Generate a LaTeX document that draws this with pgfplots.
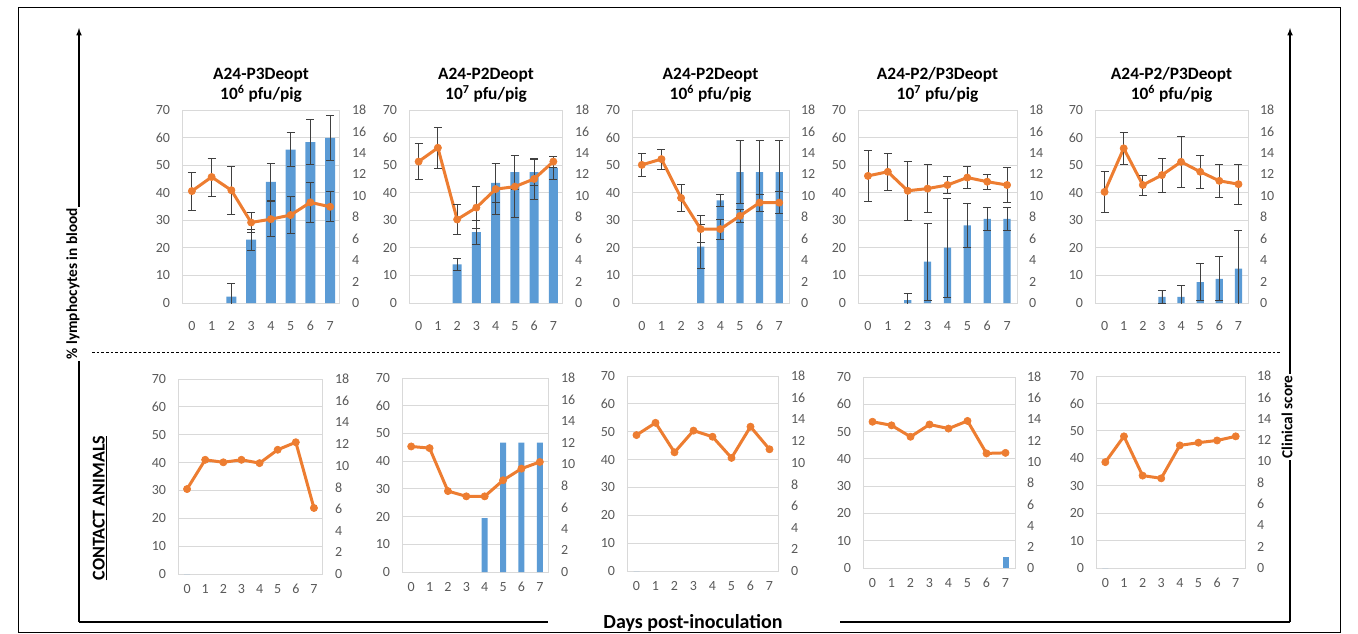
\documentclass[border=0pt]{standalone}
\usepackage{fontspec}
\setmainfont{Carlito}
\usepackage{pgfplots}
\pgfplotsset{compat=1.18}
\usepackage{pgfplotstable}
\definecolor{barblue}{HTML}{5B9BD5}
\definecolor{lineorange}{HTML}{ED7D31}
\definecolor{gridgrey}{HTML}{D9D9D9}
\definecolor{ticktext}{HTML}{595959}
\definecolor{errgrey}{HTML}{404040}

% ---------- data: line = % lymphocytes (left axis), bars = clinical score (right axis)
\pgfplotstableread{
x y e
0 40.6 6.9
1 45.7 6.9
2 40.9 8.8
3 29.2 3.6
4 30.4 6.3
5 31.9 6.8
6 36.5 7.3
7 34.9 5.4
}\lA
\pgfplotstableread{
x y e
2 0.6 1.2
3 5.9 1.0
4 11.3 1.7
5 14.3 1.6
6 15.0 2.1
7 15.4 2.1
}\bA
\pgfplotstableread{
x y e
0 51.3 6.6
1 56.3 7.4
2 30.3 5.5
3 34.6 7.7
4 41.3 9.2
5 42.2 11.2
6 45.0 7.5
7 51.3 2.0
}\lB
\pgfplotstableread{
x y e
2 3.6 0.6
3 6.6 1.1
4 11.2 1.8
5 12.2 1.6
6 12.2 1.2
7 12.6 1.1
}\bB
\pgfplotstableread{
x y e
0 50.1 4.1
1 52.2 3.6
2 38.1 4.8
3 26.8 5.0
4 26.8 3.7
5 31.6 2.4
6 36.4 3.1
7 36.4 3.9
}\lC
\pgfplotstableread{
x y e
3 5.25 2.06
4 9.57 0.57
5 12.2 2.93
6 12.2 2.93
7 12.2 2.93
}\bC
\pgfplotstableread{
x y e
0 46.1 9.2
1 47.6 6.8
2 40.7 10.8
3 41.5 8.8
4 42.8 3.0
5 45.5 4.0
6 44.0 2.7
7 42.8 6.3
}\lD
\pgfplotstableread{
x y e
2 0.26 0.62
3 3.86 3.6
4 5.17 4.63
5 7.25 2.08
6 7.84 1.08
7 7.84 1.08
}\bD
\pgfplotstableread{
x y e
0 40.3 7.4
1 56.1 5.7
2 42.8 3.6
3 46.4 6.2
4 51.2 9.4
5 47.6 5.9
6 44.3 5.9
7 43.1 7.3
}\lE
\pgfplotstableread{
x y e
3 0.57 0.62
4 0.57 1.08
5 1.95 1.70
6 2.26 2.06
7 3.21 3.60
}\bE
% contact animals
\pgfplotstableread{
x y e
0 30.5 0
1 41.0 0
2 40.1 0
3 41.0 0
4 39.8 0
5 44.6 0
6 47.3 0
7 23.7 0
}\lF
\pgfplotstableread{
x y e
0 45.3 0
1 44.7 0
2 29.2 0
3 27.3 0
4 27.3 0
5 33.1 0
6 37.3 0
7 39.7 0
}\lG
\pgfplotstableread{
x y e
4 5 0
5 12 0
6 12 0
7 12 0
}\bG
\pgfplotstableread{
x y e
0 48.8 0
1 53.2 0
2 42.6 0
3 50.4 0
4 48.2 0
5 40.6 0
6 51.8 0
7 43.7 0
}\lH
\pgfplotstableread{
x y e
0 53.6 0
1 52.3 0
2 48.1 0
3 52.6 0
4 51.1 0
5 53.9 0
6 42.0 0
7 42.2 0
}\lI
\pgfplotstableread{
x y e
7 1.0 0
}\bI
\pgfplotstableread{
x y e
0 38.6 0
1 48.0 0
2 33.7 0
3 32.7 0
4 44.7 0
5 45.7 0
6 46.5 0
7 48.0 0
}\lJ
\pgfplotstableread{
x y e
0 0 0
}\bZ

\def\xlabshift{-4pt}
\pgfplotsset{
  panelbase/.style={scale only axis, anchor=south west,
    xmin=-0.5, xmax=7.5, xtick={0,...,7},
    major tick length=0pt,
    tick label style={font=\fontsize{10.5}{12}\selectfont, text=ticktext},
    /pgf/number format/assume math mode=true},
  gridaxis/.style={panelbase, ymin=0, ymax=70, ytick={0,10,...,70},
    ymajorgrids, grid style={gridgrey, line width=0.75pt},
    axis line style={gridgrey, line width=0.75pt},
    ytick pos=left, xtick pos=bottom,
    yticklabel style={xshift=-5.5pt}, xticklabel style={yshift=\xlabshift},
    title style={font=\fontsize{13}{15}\selectfont\bfseries, align=center, yshift=-3.5pt}},
  rightaxis/.style={panelbase, ymin=0, ymax=18, ytick={0,2,...,18},
    axis y line*=right, hide x axis,
    axis line style={gridgrey, line width=0.75pt},
    yticklabel style={xshift=5.5pt}},
  lineaxis/.style={panelbase, ymin=0, ymax=70, hide axis},
  errs/.style={error bars/.cd, y dir=both, y explicit,
    error bar style={errgrey, line width=0.6pt},
    error mark options={rotate=90, errgrey, mark size=3pt, line width=0.6pt}},
  noerr/.style={},
}

\newcommand{\panel}[9]{%
\begin{axis}[gridaxis, at={(#1,#2)}, width=#3, height=#4, title={#5}]
\end{axis}
\begin{axis}[rightaxis, at={(#1,#2)}, width=#3, height=#4]
\addplot[ybar, bar width=#8, fill=barblue, draw=none, #9] table[x=x,y=y,y error=e]{#7};
\end{axis}
\begin{axis}[lineaxis, at={(#1,#2)}, width=#3, height=#4]
\addplot[color=lineorange, line width=2.25pt, mark=*, mark size=2.7pt,
  mark options={fill=lineorange, line width=0.5pt}, #9] table[x=x,y=y,y error=e]{#6};
\end{axis}}

\begin{document}
\begin{tikzpicture}
\useasboundingbox (0,0) rectangle (1018.5pt,474.75pt);
% outer frame
\draw[black, line width=0.75pt] (13.5pt,0.75pt) rectangle (1005pt,468.75pt);

% top row (inoculated)
\def\xlabshift{-10pt}
\panel{136.5pt}{247.5pt}{118.5pt}{144.75pt}{A24-P3Deopt\\10\textsuperscript{6} pfu/pig}{\lA}{\bA}{7.5pt}{errs}
\panel{306.75pt}{247.5pt}{115.5pt}{144.75pt}{A24-P2Deopt\\10\textsuperscript{7} pfu/pig}{\lB}{\bB}{6.75pt}{errs}
\panel{474pt}{247.5pt}{117.75pt}{144.75pt}{A24-P2Deopt\\10\textsuperscript{6} pfu/pig}{\lC}{\bC}{5.5pt}{errs}
\panel{643.5pt}{247.5pt}{119.25pt}{144.75pt}{A24-P2/P3Deopt\\10\textsuperscript{7} pfu/pig}{\lD}{\bD}{5.5pt}{errs}
\panel{821.25pt}{247.5pt}{114.75pt}{144.75pt}{A24-P2/P3Deopt\\10\textsuperscript{6} pfu/pig}{\lE}{\bE}{5.5pt}{errs}

% bottom row (contact animals)
\def\xlabshift{-4pt}
\panel{133.5pt}{44.25pt}{108.75pt}{146.25pt}{}{\lF}{\bZ}{4.5pt}{noerr}
\panel{301.5pt}{45.75pt}{110.25pt}{145.5pt}{}{\lG}{\bG}{4.5pt}{noerr}
\panel{470.25pt}{46.5pt}{114pt}{146.25pt}{}{\lH}{\bZ}{4.5pt}{noerr}
\panel{647.25pt}{48.75pt}{114pt}{143.25pt}{}{\lI}{\bI}{4.5pt}{noerr}
\panel{822pt}{48.75pt}{111.75pt}{144pt}{}{\lJ}{\bZ}{4.5pt}{noerr}

% frame arrows and labels
\draw[black, line width=0.9pt, -latex] (59.25pt,8.25pt) -- (59.25pt,453.75pt);
\draw[black, line width=0.9pt, -latex] (967.5pt,8.25pt) -- (967.5pt,453.75pt);
\draw[black, line width=0.9pt] (59.25pt,8.25pt) -- (411pt,8.25pt);
\draw[black, line width=0.9pt] (630pt,8.25pt) -- (967.5pt,8.25pt);
\draw[black, line width=0.6pt, dash pattern=on 2pt off 1.5pt] (69pt,210.75pt) -- (960pt,210.75pt);
\node[rotate=90, fill=white, inner sep=1pt, font=\fontsize{11.5}{13}\selectfont\bfseries] at (54.75pt,262pt) {\% lymphocytes in blood};
\node[rotate=90, inner sep=1pt, font=\fontsize{13.5}{15}\selectfont\bfseries] at (75pt,93.75pt) {\underline{CONTACT ANIMALS}};
\node[rotate=90, fill=white, inner sep=1pt, font=\fontsize{11.5}{13}\selectfont\bfseries] at (965.25pt,162pt) {Clinical score};
\node[font=\fontsize{15}{17}\selectfont\bfseries, inner sep=1pt] at (519.75pt,7.5pt) {Days post-inoculation};
\end{tikzpicture}
\end{document}
